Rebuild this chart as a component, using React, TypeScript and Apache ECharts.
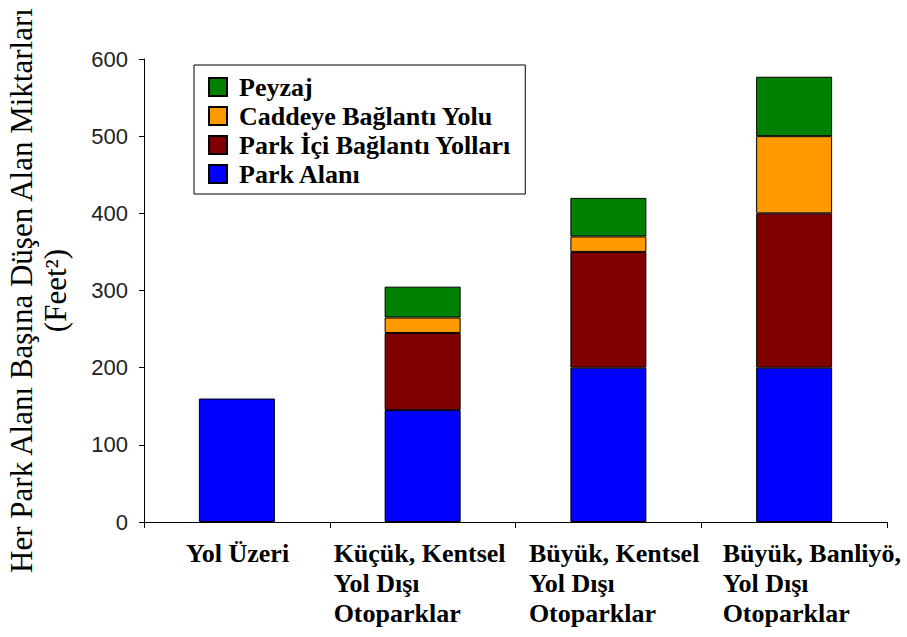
import React, { useEffect, useRef } from "react";
import * as echarts from "echarts";

const categories = [
  "Yol Üzeri",
  "Küçük, Kentsel\nYol Dışı\nOtoparklar",
  "Büyük, Kentsel\nYol Dışı\nOtoparklar",
  "Büyük, Banliyö,\nYol Dışı\nOtoparklar",
];
const seriesNames = ["Park Alanı", "Park İçi Bağlantı Yolları", "Caddeye Bağlantı Yolu", "Peyzaj"];
const parkAlani = [160, 145, 200, 200];
const parkIci = [null, 100, 150, 200];
const caddeye = [null, 20, 20, 100];
const peyzaj = [null, 40, 50, 77];
const seriesColors = ["#0000FF", "#800000", "#FF9900", "#008000"];
const yTicks = { min: 0, max: 600, interval: 100 };
const yTitle = "Her Park Alanı Başına Düşen Alan Miktarları\n(Feet²)";

export default function App() {
  const ref = useRef<HTMLDivElement>(null);
  useEffect(() => {
    if (!ref.current) return;
    const chart = echarts.init(ref.current, null, { renderer: "svg" });
    const values = [parkAlani, parkIci, caddeye, peyzaj];
    const labelWidths = [102, 178, 159, 143];
    const rich: Record<string, any> = {};
    labelWidths.forEach((w, i) => {
      rich["w" + i] = {
        width: w,
        align: "left",
        fontFamily: "Liberation Serif",
        fontWeight: "bold",
        fontSize: 26,
        lineHeight: 30,
        color: "#000",
      };
    });
    chart.setOption({
      animation: false,
      backgroundColor: "#fff",
      grid: { left: 144, right: 20, top: 59, bottom: 115, outerBoundsMode: "none", containLabel: false },
      legend: {
        orient: "vertical",
        left: 194,
        top: 65,
        data: ["Peyzaj", "Caddeye Bağlantı Yolu", "Park İçi Bağlantı Yolları", "Park Alanı"],
        icon: "rect",
        itemWidth: 18,
        itemHeight: 18,
        itemGap: 3,
        padding: [9, 14, 7, 14],
        borderColor: "#000",
        borderWidth: 1,
        backgroundColor: "#fff",
        selectedMode: false,
        textStyle: {
          fontFamily: "Liberation Serif",
          fontWeight: "bold",
          fontSize: 26,
          lineHeight: 24,
          color: "#000",
          padding: [0, 0, 0, 7],
        },
      },
      xAxis: {
        type: "category",
        data: categories,
        boundaryGap: true,
        axisLine: { show: true, lineStyle: { color: "#000", width: 1 } },
        axisTick: { show: true, length: 6, inside: false, alignWithLabel: false, lineStyle: { color: "#000" } },
        axisLabel: {
          interval: 0,
          margin: 16,
          align: "center",
          color: "#000",
          fontFamily: "Liberation Serif",
          fontWeight: "bold",
          fontSize: 26,
          lineHeight: 30,
          formatter: (v: string, idx: number) =>
            v
              .split("\n")
              .map((l) => `{w${idx}|${l}}`)
              .join("\n"),
          rich,
        },
        splitLine: { show: false },
      },
      yAxis: {
        type: "value",
        min: yTicks.min,
        max: yTicks.max,
        interval: yTicks.interval,
        name: yTitle,
        nameLocation: "middle",
        nameRotate: 90,
        nameGap: 72,
        nameTextStyle: {
          fontFamily: "Liberation Serif",
          fontSize: 31,
          lineHeight: 34,
          color: "#000",
        },
        axisLine: { show: true, lineStyle: { color: "#000", width: 1 } },
        axisTick: { show: true, length: 5, inside: false, lineStyle: { color: "#000" } },
        axisLabel: {
          margin: 16,
          color: "#222",
          fontFamily: "Liberation Sans",
          fontSize: 22,
        },
        splitLine: { show: false },
      },
      series: seriesNames.map((name, i) => ({
        name,
        type: "bar",
        stack: "total",
        barWidth: 76,
        data: values[i],
        itemStyle: { color: seriesColors[i], borderColor: "#000", borderWidth: 1 },
        emphasis: { disabled: true },
      })),
    });
    return () => chart.dispose();
  }, []);
  return <div ref={ref} style={{ position: "absolute", left: 0, top: 0, width: 907, height: 637 }} />;
}
